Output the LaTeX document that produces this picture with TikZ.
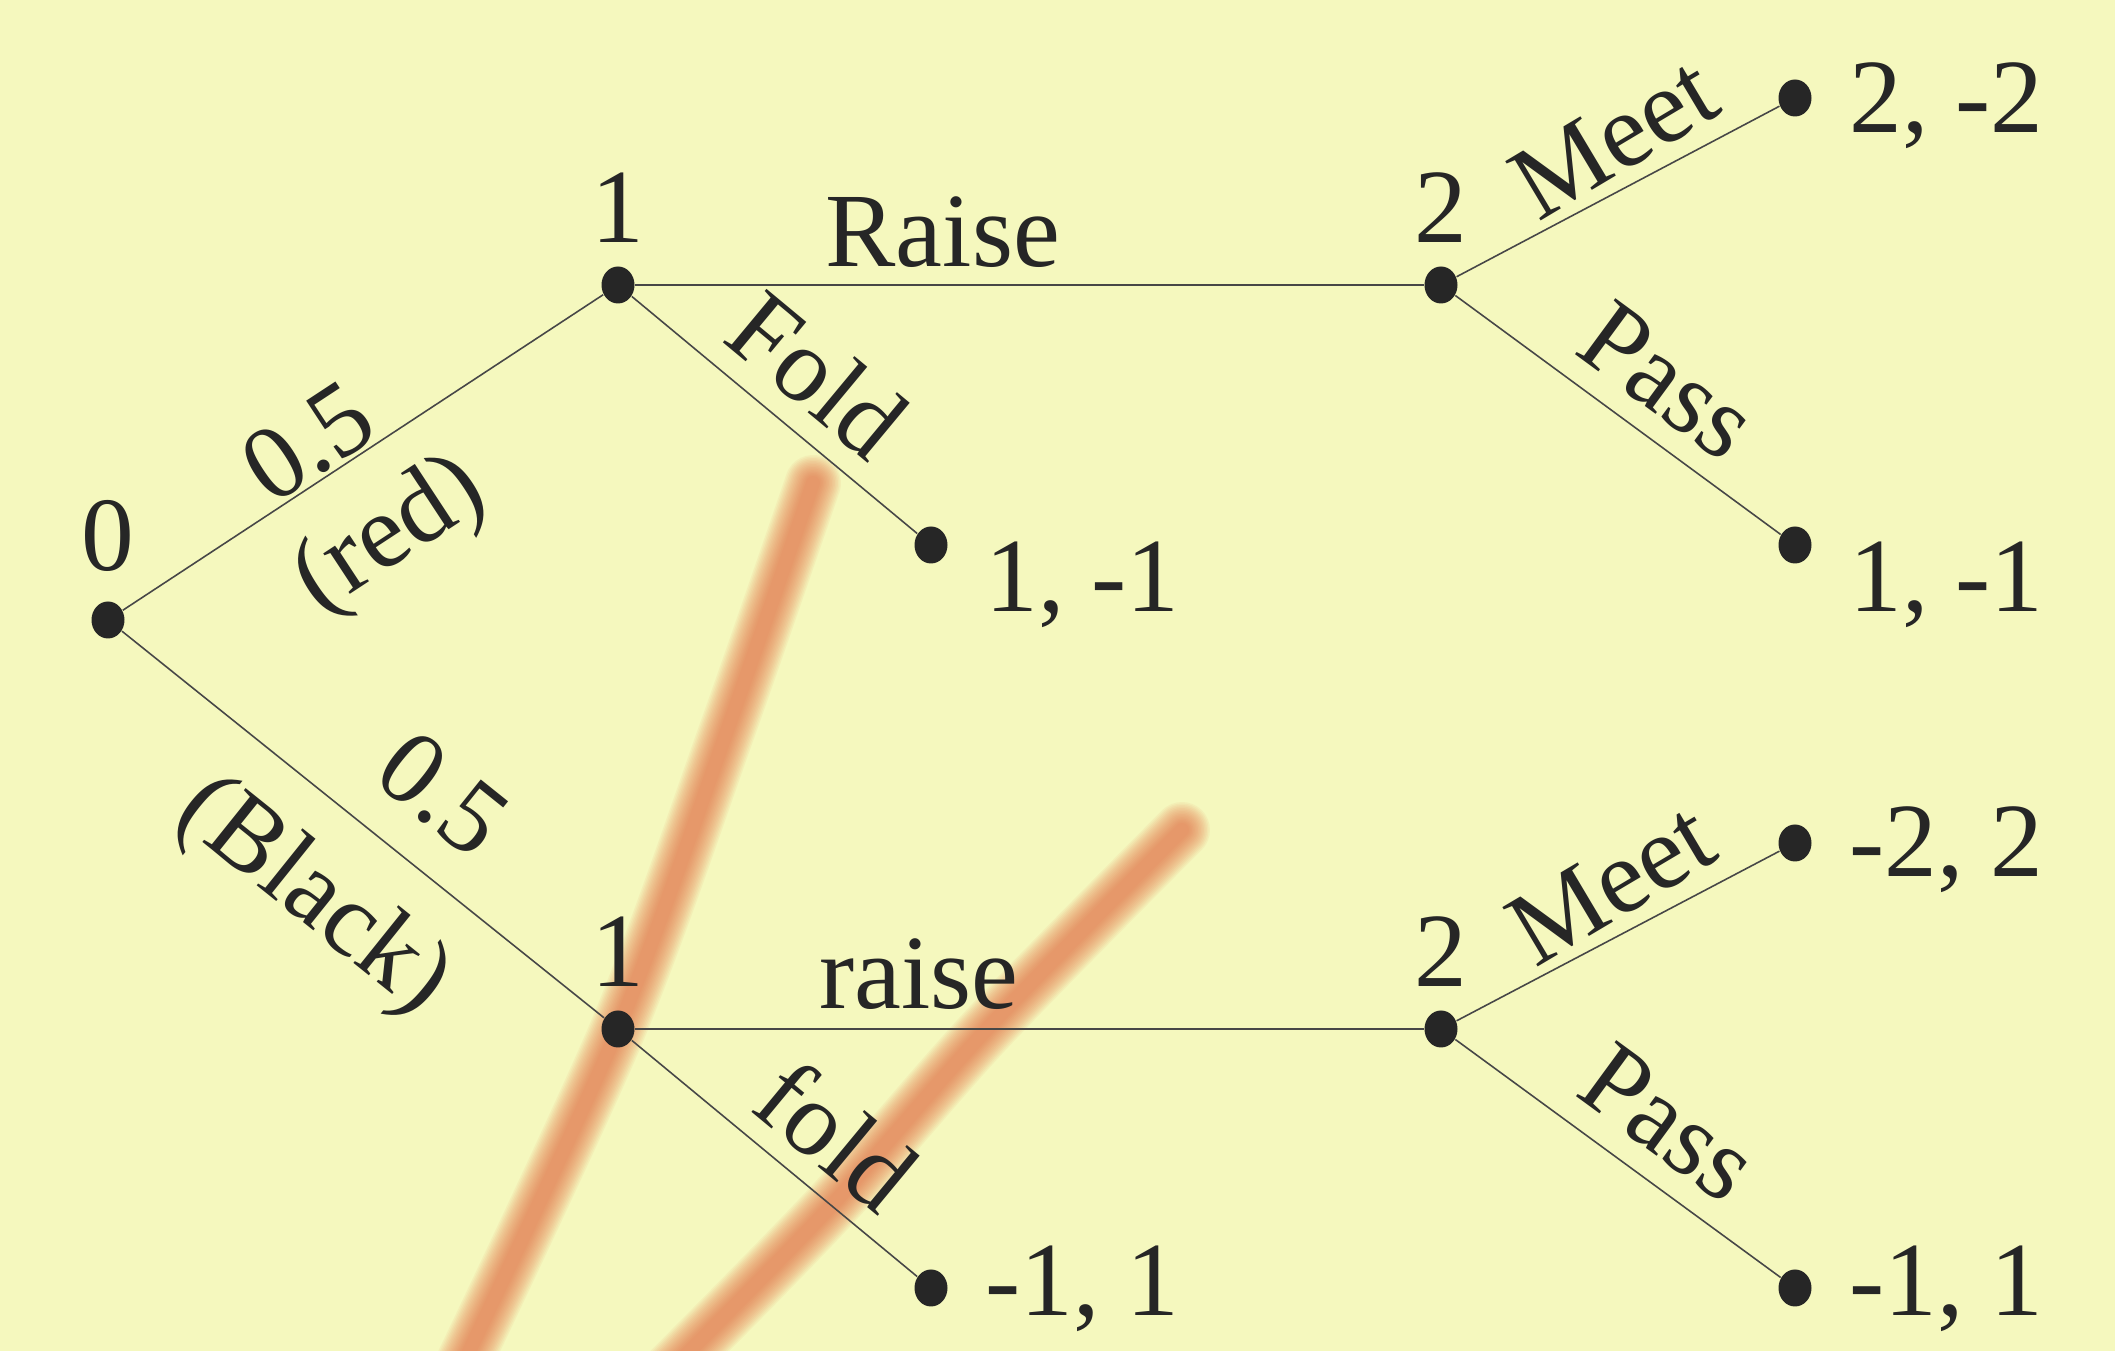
\documentclass[tikz,border=0pt]{standalone}
\usepackage{fontspec}
\setmainfont{Liberation Serif}
\usetikzlibrary{positioning,calc,shapes.geometric}
\definecolor{paper}{RGB}{245,248,190}
\definecolor{ink}{RGB}{38,38,38}
\definecolor{marker}{RGB}{230,112,70}

\begin{document}
\begin{tikzpicture}[font=\fontsize{30}{36}\selectfont,text=ink,
  dot/.style={ellipse,fill=ink,inner sep=0pt,minimum width=3.3mm,minimum height=3.7mm},
  branch/.style={draw=ink!85,line width=0.45pt},
  tag/.style={inner sep=0pt},
  act/.style={sloped,inner sep=0pt},
  payoff/.style={anchor=base west,inner sep=0pt}]
\fill[paper] (0,0) rectangle (21.15,13.51);
\useasboundingbox (0,0) rectangle (21.15,13.51);
%% marker strokes
\foreach \w in {5.6,5.3,...,1.1}{
  \draw[marker,line width=\w mm,opacity=.07,line cap=round] plot[smooth] coordinates {(8.13,8.68) (7.28,6.23) (6.18,3.22) (4.55,-0.3)};
  \draw[marker,line width=\w mm,opacity=.07,line cap=round] plot[smooth] coordinates {(11.82,5.21) (9.87,3.22) (8.31,1.45) (6.70,-0.2)};
}
%% chance and decision nodes
\node[dot] (n0) at (1.08,7.31) {};
\node[dot] (n1u) at (6.18,10.66) {};
\node[dot] (n1l) at (6.18,3.22) {};
\node[dot] (n2u) at (14.41,10.66) {};
\node[dot] (n2l) at (14.41,3.22) {};
\node[tag,above=2.9mm of n0] (t0) {0};
\node[tag,above=2.3mm of n1u] (t1u) {1};
\node[tag,above=2.3mm of n1l] (t1l) {1};
\node[tag,above=2.3mm of n2u] (t2u) {2};
\node[tag,above=2.3mm of n2l] (t2l) {2};
%% leaves
\node[dot] (fU) at (9.31,8.06) {};
\node[dot] (fL) at (9.31,0.63) {};
\node[dot] (mU) at (17.95,12.53) {};
\node[dot] (pU) at (17.95,8.06) {};
\node[dot] (mL) at (17.95,5.08) {};
\node[dot] (pL) at (17.95,0.63) {};
\node[payoff] (vmU) at ($(mU)+(0.54,-0.35)$) {2, -2};
\node[payoff] (vpU) at ($(pU)+(0.54,-0.67)$) {1, -1};
\node[payoff] (vfU) at ($(fU)+(0.54,-0.67)$) {1, -1};
\node[payoff] (vmL) at ($(mL)+(0.54,-0.34)$) {-2, 2};
\node[payoff] (vpL) at ($(pL)+(0.54,-0.28)$) {-1, 1};
\node[payoff] (vfL) at ($(fL)+(0.54,-0.28)$) {-1, 1};
%% branches
\draw[branch] (n0) -- node[act,pos=.43,yshift=3.9mm] (pr1) {0.5} node[act,pos=.46,yshift=-8.6mm] (cr1) {(red)} (n1u);
\draw[branch] (n0) -- node[act,pos=.57,yshift=7.4mm] (pr2) {0.5} node[act,pos=.51,yshift=-8.9mm] (cr2) {(Black)} (n1l);
\draw[branch] (n1u) -- node[act,pos=.39,yshift=5.3mm] (aRu) {Raise} (n2u);
\draw[branch] (n1u) -- node[act,pos=.52,yshift=5.9mm] (aFu) {Fold} (fU);
\draw[branch] (n1l) -- node[act,pos=.36,yshift=5.5mm] (aRl) {raise} (n2l);
\draw[branch] (n1l) -- node[act,pos=.59,yshift=5.8mm] (aFl) {fold} (fL);
\draw[branch] (n2u) -- node[act,pos=.56,yshift=4.9mm,rotate=3] (aMu) {Meet} (mU);
\draw[branch] (n2u) -- node[act,pos=.55,yshift=5.7mm] (aPu) {Pass} (pU);
\draw[branch] (n2l) -- node[act,pos=.55,yshift=4.9mm,rotate=3] (aMl) {Meet} (mL);
\draw[branch] (n2l) -- node[act,pos=.55,yshift=5.9mm] (aPl) {Pass} (pL);
\end{tikzpicture}
\end{document}
